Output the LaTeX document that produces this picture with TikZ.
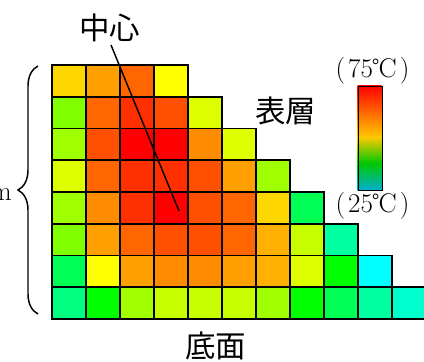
\documentclass[tikz,border=0pt]{standalone}
\usepackage{fontspec}
\newfontfamily\cjk{Noto Sans CJK JP}
\usetikzlibrary{decorations.pathreplacing}
\definecolor{cA}{HTML}{FF0000}
\definecolor{cB}{HTML}{FF3000}
\definecolor{cC}{HTML}{FF5000}
\definecolor{cD}{HTML}{FF6600}
\definecolor{cE}{HTML}{FF8C00}
\definecolor{cF}{HTML}{FFA000}
\definecolor{cG}{HTML}{FFB000}
\definecolor{cH}{HTML}{FFD700}
\definecolor{cI}{HTML}{FFFF00}
\definecolor{cJ}{HTML}{DDFF00}
\definecolor{cK}{HTML}{C8FF00}
\definecolor{cL}{HTML}{A0FF00}
\definecolor{cM}{HTML}{80FF00}
\definecolor{cN}{HTML}{00FF00}
\definecolor{cO}{HTML}{00FF55}
\definecolor{cP}{HTML}{00FF80}
\definecolor{cQ}{HTML}{00FFA0}
\definecolor{cR}{HTML}{00FFCC}
\definecolor{cS}{HTML}{00FFFF}
\definecolor{barA}{HTML}{FF0000}
\definecolor{barB}{HTML}{FFC800}
\definecolor{barC}{HTML}{00C800}
\definecolor{barD}{HTML}{00B0D0}
\newdimen\pxu
\pxu=0.75pt
\tikzset{
  cell/.style={draw=black,line width=1.3pt,minimum width=34\pxu,minimum height=31.75\pxu,inner sep=0pt,outer sep=0pt,anchor=north west},
  cjklabel/.style={font=\cjk\fontsize{30.5\pxu}{30.5\pxu}\selectfont,inner sep=0pt},
  templabel/.style={font=\fontsize{27\pxu}{27\pxu}\selectfont,inner sep=0pt},
}
\begin{document}
\begin{tikzpicture}[x=0.75pt,y=-0.75pt]
\useasboundingbox (0,0) rectangle (424,361);
\clip (0,0) rectangle (424,361);
\newcommand{\gridrow}[2]{%
  \foreach \c [count=\i from 0] in {#2} {
    \node[cell,fill=\c] (r#1c\i) at ({52+34*\i},{65+31.75*#1}) {};
  }}
\gridrow{0}{cH,cF,cD,cI}
\gridrow{1}{cM,cD,cB,cC,cJ}
\gridrow{2}{cL,cC,cA,cA,cE,cJ}
\gridrow{3}{cJ,cD,cB,cB,cC,cF,cL}
\gridrow{4}{cL,cE,cB,cA,cC,cD,cH,cO}
\gridrow{5}{cM,cF,cD,cC,cC,cD,cG,cK,cQ}
\gridrow{6}{cO,cI,cF,cE,cE,cF,cG,cJ,cN,cS}
\gridrow{7}{cP,cN,cL,cK,cK,cK,cL,cN,cO,cQ,cR}
\coordinate (lineA) at (111,45);
\coordinate (lineB) at (179,211);
\draw[line width=1.1pt] (lineA) -- (lineB);
\node[cjklabel] (center) at (109.5,28) {中心};
\node[cjklabel] (surface) at (285.5,111) {表層};
\node[cjklabel] (bottom) at (215.5,346) {底面};
\node[templabel] (hot) at (372.5,70.5) {(\hspace{3\pxu}75℃\hspace{3\pxu})};
\node[templabel] (cold) at (372.5,206) {(\hspace{3\pxu}25℃\hspace{3\pxu})};
\node[templabel,anchor=base east] (m) at (12,200) {m};
\shade[top color=barA,bottom color=barB] (357.5,85.5) rectangle (381.5,137);
\shade[top color=barB,bottom color=barC] (357.5,137) rectangle (381.5,163);
\shade[top color=barC,bottom color=barD] (357.5,163) rectangle (381.5,190);
\node[draw=black,line width=1pt,minimum width=24\pxu,minimum height=104.5\pxu,inner sep=0pt,anchor=north west] (bar) at (357.5,85.5) {};
\coordinate (braceT) at (38,66);
\coordinate (braceB) at (38,314);
\draw[line width=1.1pt,decorate,decoration={brace,amplitude=15pt,mirror,raise=0pt}] (braceT) -- (braceB);
\end{tikzpicture}
\end{document}
